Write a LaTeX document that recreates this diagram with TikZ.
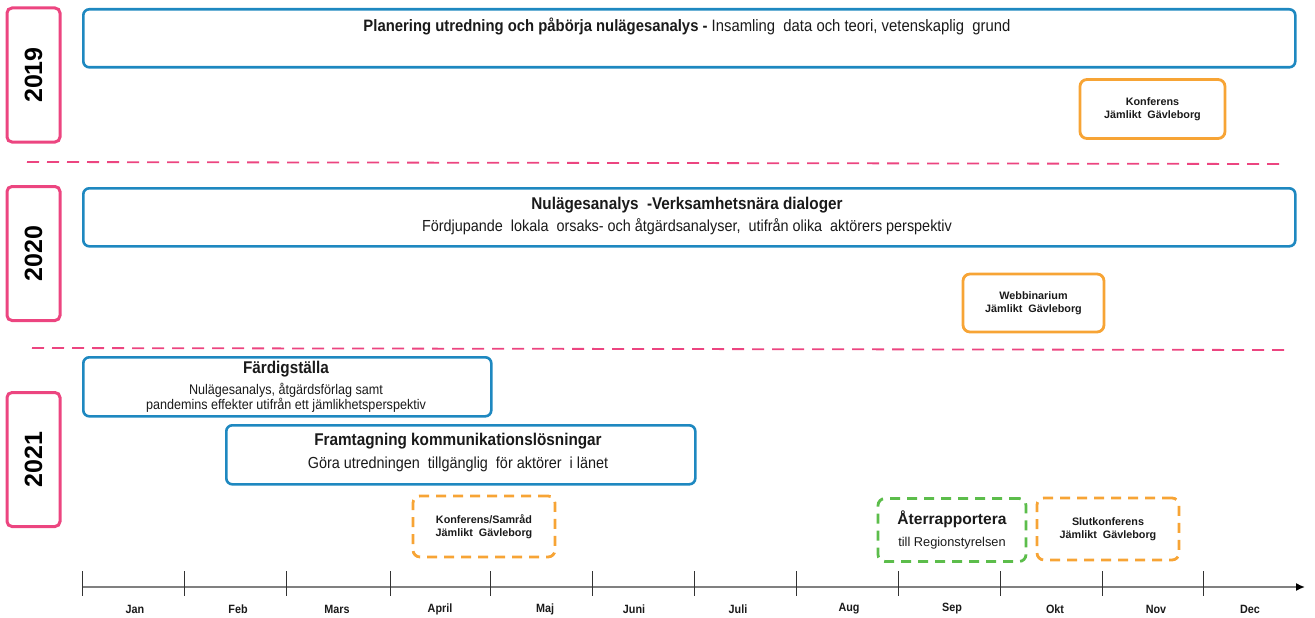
\documentclass[tikz,border=0pt]{standalone}
\usepackage{fontspec}
\setmainfont{Liberation Sans}
\newfontfamily\nar[FakeStretch=0.9]{Liberation Sans}
\usetikzlibrary{arrows.meta}
\definecolor{cblue}{HTML}{1E88C0}
\definecolor{cpink}{HTML}{EC4580}
\definecolor{corange}{HTML}{F7A435}
\definecolor{cgreen}{HTML}{5CBD4B}
\definecolor{ctext}{HTML}{1A1A1A}
\begin{document}
\begin{tikzpicture}[x=1pt,y=-1pt,
  bar/.style={draw=cblue, line width=2.6pt, rounded corners=6pt, inner sep=0pt, anchor=north west},
  yearbox/.style={draw=cpink, line width=3pt, rounded corners=5pt, minimum width=53pt, minimum height=134pt, inner sep=0pt, text=black, font=\fontsize{25}{25}\selectfont\bfseries},
  evbox/.style={line width=2.8pt, rounded corners=7pt, inner sep=0pt, align=center, text=ctext, font=\fontsize{10.8}{13.5}\selectfont\bfseries},
  evsolid/.style={evbox, draw=corange},
  evdash/.style={evbox, draw=corange, dash pattern=on 10pt off 7pt},
  evgreen/.style={evbox, draw=cgreen, dash pattern=on 10pt off 7pt},
  sep/.style={draw=cpink, line width=1.8pt, dash pattern=on 12pt off 8pt},
  ttl/.style={text=ctext, inner sep=0pt, font=\nar\fontsize{17}{20}\selectfont\bfseries},
  sub/.style={text=ctext, inner sep=0pt, align=center, font=\nar\fontsize{16}{19}\selectfont},
  month/.style={text=ctext, inner sep=0pt, font=\nar\fontsize{12}{14}\selectfont\bfseries},
  tick/.style={draw=black!80, line width=0.6pt},
  axis/.style={draw=black!50, line width=1.6pt, -{Latex[length=9pt,width=8pt,black]}}
]
\useasboundingbox (0,0) rectangle (1315,618);

% year boxes
\node[yearbox] (y19) at (33.5,75) {\rotatebox{90}{2019}};
\node[yearbox] (y20) at (33.5,253.5) {\rotatebox{90}{2020}};
\node[yearbox] (y21) at (33.5,459.5) {\rotatebox{90}{2021}};

% 2019
\node[bar, minimum width=1212pt, minimum height=58pt] (b19) at (82,8) {};
\node[ttl, font=\nar\fontsize{16.5}{20}\selectfont\bfseries] (t19) at (687,26) {Planering utredning och påbörja nulägesanalys - \mdseries Insamling\ \ data och teori, vetenskaplig\ \ grund};
\node[evsolid, minimum width=145pt, minimum height=59pt] (k19) at (1152.5,109) {Konferens\\Jämlikt\ \ Gävleborg};
\coordinate (s1a) at (27,162);
\coordinate (s1b) at (1280,164);
\draw[sep] (s1a) -- (s1b);

% 2020
\node[bar, minimum width=1212pt, minimum height=58pt] (b20) at (82,187) {};
\node[ttl] (t20) at (687,205) {Nulägesanalys\ \ -Verksamhetsnära dialoger};
\node[sub] (s20) at (687,227) {Fördjupande\ \ lokala\ \ orsaks- och åtgärdsanalyser,\ \ utifrån olika\ \ aktörers perspektiv};
\node[evsolid, minimum width=141pt, minimum height=58pt] (w20) at (1033.5,303) {Webbinarium\\Jämlikt\ \ Gävleborg};
\coordinate (s2a) at (32,348);
\coordinate (s2b) at (1285,350);
\draw[sep] (s2a) -- (s2b);

% 2021
\node[bar, minimum width=408pt, minimum height=59pt] (b21a) at (82,356) {};
\node[ttl] (t21a) at (286,369) {Färdigställa};
\node[sub, font=\nar\fontsize{14}{14.5}\selectfont] (s21a) at (286,398) {Nulägesanalys,\ åtgärdsförlag samt\\pandemins effekter utifrån ett jämlikhetsperspektiv};
\node[bar, minimum width=469pt, minimum height=59pt] (b21b) at (225,424) {};
\node[ttl] (t21b) at (458,441) {Framtagning kommunikationslösningar};
\node[sub] (s21b) at (458,464) {Göra utredningen\ \ tillgänglig\ \ för aktörer\ \ i länet};

\node[evdash, minimum width=142pt, minimum height=61pt] (k21) at (484,526.5) {Konferens/Samråd\\Jämlikt\ \ Gävleborg};
\node[evgreen, minimum width=148pt, minimum height=63pt, font=\fontsize{15.6}{22}\selectfont\bfseries] (a21) at (952,530) {Återrapportera\\{\mdseries\fontsize{12.8}{13}\selectfont till Regionstyrelsen}};
\node[evdash, minimum width=142pt, minimum height=62pt] (sk21) at (1108,529) {Slutkonferens\\Jämlikt\ \ Gävleborg};

% axis
\coordinate (ax0) at (82,587);
\coordinate (ax1) at (1305,587);
\draw[axis] (ax0) -- (ax1);
\foreach \x in {82,184,286,390,490,592,694,796,898,1000,1102,1203}
  \draw[tick] (\x,571) -- (\x,596);
\foreach \x/\m in {135/Jan,238/Feb,337/Mars,440/April,545/Maj,634/Juni,738/Juli,849/Aug,952/Sep,1055/Okt,1156/Nov,1250/Dec}
  \node[month] (m\m) at (\x,609) {\m};
\end{tikzpicture}
\end{document}
